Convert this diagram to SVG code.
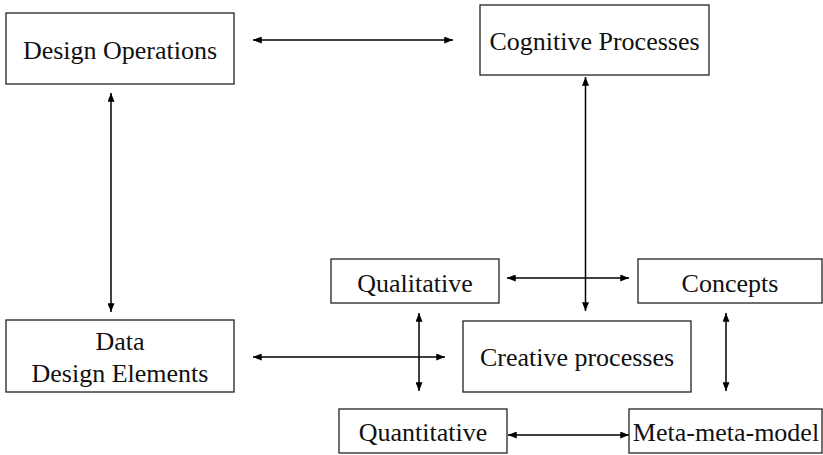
<svg xmlns="http://www.w3.org/2000/svg" width="823" height="455" viewBox="0 0 823 455">
  <style>
    .box { fill: #ffffff; stroke: #222222; stroke-width: 1.3; }
    .lbl { font-family: "Liberation Serif", "Times New Roman", serif; font-size: 26px; fill: #111111; text-anchor: middle; }
    .link { stroke: #000000; stroke-width: 1.5; fill: none; marker-start: url(#head); marker-end: url(#head); }
  </style>
  <defs>
    <marker id="head" viewBox="0 0 10 8" refX="10" refY="4" markerWidth="9" markerHeight="7" markerUnits="userSpaceOnUse" orient="auto-start-reverse">
      <path d="M0,0 L10,4 L0,8 z" fill="#000000"/>
    </marker>
  </defs>
  <rect width="823" height="455" fill="#ffffff"/>

  <g id="connectors">
    <line class="link" x1="253" y1="40" x2="453" y2="40"/>
    <line class="link" x1="111" y1="93" x2="111" y2="312"/>
    <line class="link" x1="585.5" y1="77" x2="585.5" y2="311"/>
    <line class="link" x1="253" y1="357" x2="445" y2="357"/>
    <line class="link" x1="507" y1="278" x2="629" y2="278"/>
    <line class="link" x1="419" y1="313" x2="419" y2="391"/>
    <line class="link" x1="726" y1="313" x2="726" y2="391"/>
    <line class="link" x1="508" y1="435" x2="629" y2="435"/>
  </g>

  <g id="design-operations">
    <rect class="box" x="6" y="13" width="228" height="71"/>
    <text class="lbl" x="120" y="59">Design Operations</text>
  </g>
  <g id="cognitive-processes">
    <rect class="box" x="480" y="5" width="229" height="70"/>
    <text class="lbl" x="594.5" y="50">Cognitive Processes</text>
  </g>
  <g id="data-design-elements">
    <rect class="box" x="6" y="320" width="228" height="72"/>
    <text class="lbl" x="120" y="350">Data</text>
    <text class="lbl" x="120" y="382">Design Elements</text>
  </g>
  <g id="qualitative">
    <rect class="box" x="331" y="259" width="168" height="44"/>
    <text class="lbl" x="415" y="292">Qualitative</text>
  </g>
  <g id="concepts">
    <rect class="box" x="638" y="259" width="184" height="44"/>
    <text class="lbl" x="730" y="292">Concepts</text>
  </g>
  <g id="creative-processes">
    <rect class="box" x="463" y="321" width="228" height="71"/>
    <text class="lbl" x="577" y="366">Creative processes</text>
  </g>
  <g id="quantitative">
    <rect class="box" x="339" y="409" width="168" height="44"/>
    <text class="lbl" x="423" y="441">Quantitative</text>
  </g>
  <g id="meta-meta-model">
    <rect class="box" x="629" y="409" width="193" height="44"/>
    <text class="lbl" x="726" y="441">Meta-meta-model</text>
  </g>
</svg>
